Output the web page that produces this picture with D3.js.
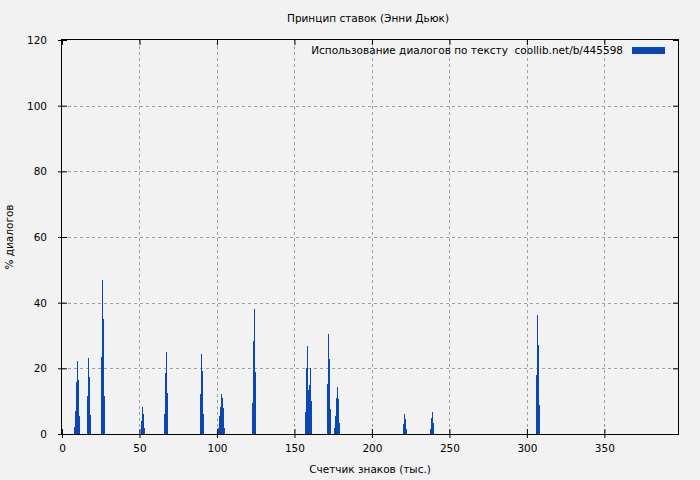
<!DOCTYPE html>
<html><head><meta charset="utf-8">
<script src="https://cdn.jsdelivr.net/npm/d3@7"></script>
<style>body{margin:0;background:#f2f2f2;}svg{display:block;}text{font-family:"DejaVu Sans",sans-serif;font-size:10.5px;fill:#000;}</style>
</head><body>
<script>
const title = "Принцип ставок (Энни Дьюк)";
const xLabel = "Счетчик знаков (тыс.)";
const yLabel = "% диалогов";
const legendLabel = "Использование диалогов по тексту\u00a0\u00a0coollib.net/b/445598";
const xTicks = [0, 50, 100, 150, 200, 250, 300, 350];
const yTicks = [0, 20, 40, 60, 80, 100, 120];
const barStep = 0.645;
const barX = [7.74, 8.39, 9.03, 9.68, 10.32, 10.97,
  16.13, 16.78, 17.42, 18.07,
  25.17, 25.81, 26.46, 27.10,
  50.98, 51.62, 52.27, 52.91,
  65.82, 66.46, 67.11, 67.76,
  89.05, 89.70, 90.34, 90.99,
  100.66, 101.31, 101.95, 102.60, 103.25, 103.89, 104.54,
  122.60, 123.25, 123.89, 124.54,
  156.80, 157.45, 158.10, 158.74, 159.39, 160.03, 160.68,
  171.00, 171.65, 172.29, 172.94,
  175.52, 176.16, 176.81, 177.45, 178.10, 178.74,
  220.04, 220.69, 221.33, 221.98,
  237.47, 238.11, 238.76, 239.40,
  305.87, 306.52, 307.16, 307.81];
const barY = [2.2, 7.0, 15.8, 22.3, 16.4, 5.6,
  11.6, 23.1, 17.5, 5.8,
  23.4, 46.9, 35.0, 11.6,
  4.0, 8.2, 6.1, 1.8,
  6.1, 18.7, 25.0, 12.6,
  12.2, 24.4, 19.2, 6.1,
  1.8, 5.4, 8.3, 12.2, 11.1, 7.9, 1.8,
  9.4, 28.3, 38.1, 19.0,
  6.7, 20.1, 26.8, 13.4, 14.9, 20.1, 10.2,
  15.2, 30.5, 22.8, 7.6,
  1.8, 5.5, 11.0, 14.3, 10.7, 3.4,
  3.0, 6.1, 4.6, 1.5,
  1.5, 4.9, 6.7, 3.4,
  18.0, 36.2, 27.1, 8.8];

const W = 700, H = 480;
const L = 62, R = 678, T = 40, B = 434;
const svg = d3.select("body").append("svg").attr("width", W).attr("height", H);
svg.append("rect").attr("width", W).attr("height", H).attr("fill", "#f2f2f2");

const x = d3.scaleLinear().domain([0, 397.5]).range([L, R]);
const y = d3.scaleLinear().domain([0, 120]).range([B, T]);

// grid
const grid = svg.append("g").attr("stroke", "#a0a0a0").attr("stroke-dasharray", "3,3").attr("stroke-width", 1);
xTicks.filter(t => t > 0).forEach(t => {
  grid.append("line").attr("x1", Math.round(x(t)) + 0.5).attr("x2", Math.round(x(t)) + 0.5).attr("y1", T).attr("y2", B);
});
yTicks.filter(t => t > 0 && t < 120).forEach(t => {
  grid.append("line").attr("x1", L).attr("x2", R).attr("y1", Math.round(y(t)) + 0.5).attr("y2", Math.round(y(t)) + 0.5);
});

// bars
const bw = x(barStep) - x(0);
svg.append("g").selectAll("rect").data(barX.map((v, i) => [v, barY[i]])).join("rect")
  .attr("x", d => x(d[0])).attr("width", bw)
  .attr("y", d => y(d[1])).attr("height", d => B - y(d[1]))
  .attr("fill", "#0a46b4").attr("shape-rendering", "crispEdges");

// axes
const xAxis = svg.append("g").attr("transform", `translate(0,${B})`)
  .call(d3.axisBottom(x).tickValues(xTicks).tickSize(-5).tickPadding(11).tickFormat(d3.format("d")));
const yAxis = svg.append("g").attr("transform", `translate(${L},0)`)
  .call(d3.axisLeft(y).tickValues(yTicks).tickSize(-5).tickPadding(15).tickFormat(d3.format("d")));
const xTop = svg.append("g").attr("transform", `translate(0,${T})`)
  .call(d3.axisTop(x).tickValues(xTicks).tickSize(-5).tickFormat(""));
const yRight = svg.append("g").attr("transform", `translate(${R},0)`)
  .call(d3.axisRight(y).tickValues(yTicks).tickSize(-5).tickFormat(""));
[xAxis, yAxis, xTop, yRight].forEach(g => {
  g.select(".domain").remove();
  g.selectAll("line").attr("stroke", "#000");
  g.selectAll("text").style("font-family", "DejaVu Sans, sans-serif").style("font-size", "10.5px").attr("fill", "#000");
});
xAxis.selectAll(".tick line").clone().attr("y2", 4);
yAxis.selectAll(".tick line").clone().attr("x2", -4);

// border
svg.append("rect").attr("x", L - 0.5).attr("y", T - 0.5).attr("width", R - L + 1).attr("height", B - T + 1)
  .attr("fill", "none").attr("stroke", "#000").attr("stroke-width", 1);

// title, labels
svg.append("text").attr("x", 368).attr("y", 22).attr("text-anchor", "middle").text(title);
svg.append("text").attr("x", (L + R) / 2).attr("y", 473).attr("text-anchor", "middle").text(xLabel);
svg.append("text").attr("transform", "translate(13,237) rotate(-90)").attr("text-anchor", "middle").text(yLabel);

// legend
svg.append("text").attr("x", 623).attr("y", 54).attr("text-anchor", "end").text(legendLabel);
svg.append("rect").attr("x", 632).attr("y", 47).attr("width", 33).attr("height", 7).attr("fill", "#0a46b4");
</script>
</body></html>
